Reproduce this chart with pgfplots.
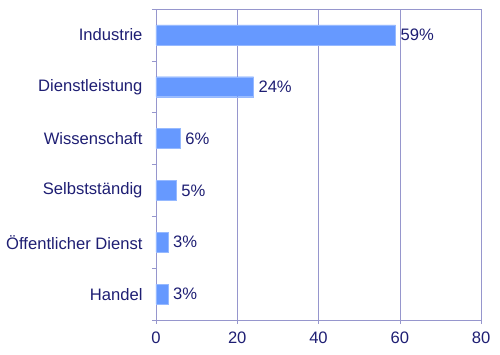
\documentclass[border=0pt]{standalone}
\usepackage{pgfplots}
\pgfplotsset{compat=1.18}
\usepackage{fontspec}
\setmainfont{Liberation Sans}
\definecolor{barblue}{RGB}{102,153,255}
\definecolor{baredge}{RGB}{150,185,255}
\definecolor{navy}{RGB}{30,30,115}
\definecolor{gridc}{RGB}{150,150,205}
\begin{document}
\begin{tikzpicture}
\begin{axis}[
  scale only axis,
  width=325pt, height=311pt,
  xbar, bar width=20pt,
  xmin=0, xmax=80,
  ymin=-0.5, ymax=5.5,
  xtick={0,20,40,60,80},
  ytick={0,1,2,3,4,5},
  yticklabels={Handel,Öffentlicher Dienst,Selbstständig,Wissenschaft,Dienstleistung,Industrie},
  minor ytick={-0.5,0.5,1.5,2.5,3.5,4.5,5.5},
  xtick pos=bottom, ytick pos=left,
  tick align=outside,
  major tick length=4pt, minor tick length=4pt,
  major y tick style={draw=none},
  every tick/.style={gridc, thin},
  minor y tick style={gridc, thin},
  xmajorgrids,
  major grid style={gridc, thin},
  axis line style={gridc, thin},
  tick label style={font=\fontsize{16.6}{19}\selectfont, text=navy},
  /pgf/number format/assume math mode=true,
  yticklabel style={xshift=-6pt},
  xticklabel style={yshift=-4pt},
  nodes near coords={\pgfmathprintnumber{\pgfplotspointmeta}\%},
  every node near coord/.style={font=\fontsize{16.6}{19}\selectfont, text=navy, anchor=west, xshift=1.5pt},
]
\addplot[fill=barblue, draw=baredge] coordinates {
  (3,0) (3,1) (5,2) (6,3) (24,4) (59,5)
};
\end{axis}
\path (current axis.south west) ++(-156pt,-35pt) rectangle ++(500pt,355pt);
\end{tikzpicture}
\end{document}
